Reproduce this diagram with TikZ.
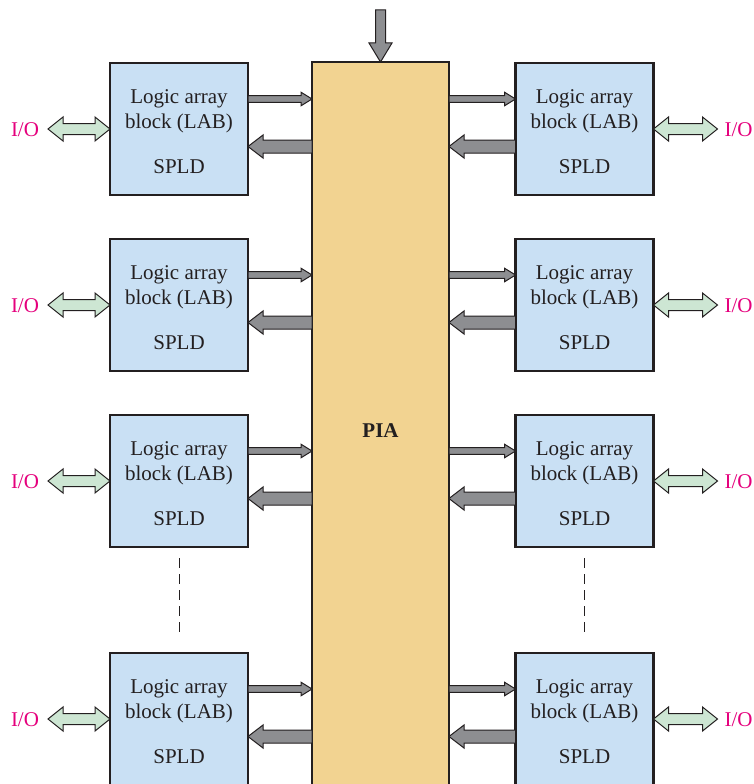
\documentclass[tikz,border=0pt]{standalone}
\usepackage{fontspec}
\setmainfont{Liberation Serif}
\usetikzlibrary{calc}
\definecolor{blockblue}{HTML}{C9E0F4}
\definecolor{piafill}{HTML}{F2D391}
\definecolor{arrgray}{HTML}{8D8E91}
\definecolor{iogreen}{HTML}{CDE6D3}
\definecolor{iomag}{HTML}{E5007D}
\definecolor{outl}{HTML}{231F20}
\tikzset{
  lab/.style={draw=outl, line width=2.5pt, fill=blockblue, minimum width=138pt, minimum height=132pt, inner sep=0pt, outer sep=0pt},
  piabox/.style={draw=outl, line width=2.5pt, fill=piafill, minimum width=137pt, minimum height=738pt, inner sep=0pt, outer sep=0pt, font=\fontsize{21}{24}\selectfont\bfseries, text=outl},
  txt/.style={font=\fontsize{21}{24}\selectfont, text=outl, inner sep=0pt, anchor=base},
  iotxt/.style={font=\fontsize{21}{24}\selectfont, text=iomag, inner sep=0pt, anchor=base},
  grayarr/.style={draw=outl, fill=arrgray, line width=1pt, line join=miter},
  greenarr/.style={draw=outl, fill=iogreen, line width=1pt, line join=miter},
  dashline/.style={draw=outl, line width=1.4pt, dash pattern=on 10pt off 6pt}
}
% single block arrow: style, tail, tip, shaft half width, head half width, head length
\newcommand\fatarrow[6]{%
  \coordinate (fa-t) at #2;
  \coordinate (fa-p) at #3;
  \coordinate (fa-h) at ($(fa-p)!#6!(fa-t)$);
  \draw[#1] ($(fa-t)!#4!90:(fa-p)$) -- ($(fa-h)!#4!90:(fa-p)$) -- ($(fa-h)!#5!90:(fa-p)$) -- (fa-p)
    -- ($(fa-h)!#5!-90:(fa-p)$) -- ($(fa-h)!#4!-90:(fa-p)$) -- ($(fa-t)!#4!-90:(fa-p)$) -- cycle;}
% double block arrow: style, end a, end b, shaft half width, head half width, head length
\newcommand\dblarrow[6]{%
  \coordinate (da-a) at #2;
  \coordinate (da-b) at #3;
  \coordinate (da-ha) at ($(da-a)!#6!(da-b)$);
  \coordinate (da-hb) at ($(da-b)!#6!(da-a)$);
  \draw[#1] (da-a) -- ($(da-ha)!#5!90:(da-b)$) -- ($(da-ha)!#4!90:(da-b)$) -- ($(da-hb)!#4!-90:(da-a)$)
    -- ($(da-hb)!#5!-90:(da-a)$) -- (da-b) -- ($(da-hb)!#5!90:(da-a)$) -- ($(da-hb)!#4!90:(da-a)$)
    -- ($(da-ha)!#4!-90:(da-b)$) -- ($(da-ha)!#5!-90:(da-b)$) -- cycle;}
\newcommand\labblock[3]{%
  \node[lab] (#1) at (#2,#3) {};
  \node[txt] (#1-a) at ($(#1.center)+(0,-26)$) {Logic array};
  \node[txt] (#1-b) at ($(#1.center)+(0,-1)$) {block (LAB)};
  \node[txt] (#1-c) at ($(#1.center)+(0,44)$) {SPLD};}
\newcommand\leftconn[1]{%
  \fatarrow{grayarr}{($(#1.east)+(0,-30)$)}{(pia.west |- {$(#1.east)+(0,-30)$})}{3.3pt}{6.8pt}{11pt}
  \fatarrow{grayarr}{(pia.west |- {$(#1.east)+(0,17.5)$})}{($(#1.east)+(0,17.5)$)}{6.5pt}{11.5pt}{15pt}
  \dblarrow{greenarr}{($(#1.west)+(-62,0)$)}{(#1.west)}{5.5pt}{12pt}{15pt}
  \node[iotxt] (#1-io) at ($(#1.west)+(-85,7)$) {I/O};}
\newcommand\rightconn[1]{%
  \fatarrow{grayarr}{(pia.east |- {$(#1.west)+(0,-30)$})}{($(#1.west)+(0,-30)$)}{3.3pt}{6.8pt}{11pt}
  \fatarrow{grayarr}{($(#1.west)+(0,17.5)$)}{(pia.east |- {$(#1.west)+(0,17.5)$})}{6.5pt}{11.5pt}{15pt}
  \dblarrow{greenarr}{(#1.east)}{($(#1.east)+(64,0)$)}{5.5pt}{12pt}{15pt}
  \node[iotxt] (#1-io) at ($(#1.east)+(85,7)$) {I/O};}
\begin{document}
\begin{tikzpicture}[x=1pt,y=-1pt]
  \clip (0,0) rectangle (753,784);
  \fill[white] (0,0) rectangle (753,784);
  \node[piabox] (pia) at (380.5,431) {PIA};
  \labblock{L1}{179}{129}
  \labblock{L2}{179}{305}
  \labblock{L3}{179}{481}
  \labblock{L4}{179}{719}
  \labblock{R1}{584.5}{129}
  \labblock{R2}{584.5}{305}
  \labblock{R3}{584.5}{481}
  \labblock{R4}{584.5}{719}
  \leftconn{L1}\leftconn{L2}\leftconn{L3}\leftconn{L4}
  \rightconn{R1}\rightconn{R2}\rightconn{R3}\rightconn{R4}
  \fatarrow{grayarr}{($(pia.north)+(0,-52)$)}{(pia.north)}{5pt}{11.5pt}{19pt}
  \draw[dashline] ($(L3.south)+(0.5,11)$) -- ($(L4.north)+(0.5,-21)$);
  \draw[dashline] ($(R3.south)+(0,11)$) -- ($(R4.north)+(0,-21)$);
\end{tikzpicture}
\end{document}
